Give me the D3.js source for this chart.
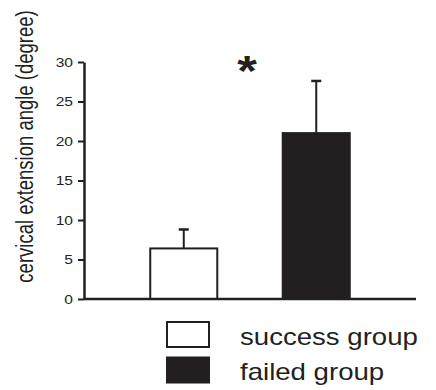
<!DOCTYPE html>
<html>
<head>
<meta charset="utf-8">
<script src="https://cdn.jsdelivr.net/npm/d3@7"></script>
<style>
  body { margin: 0; background: #fff; }
  svg { display: block; font-family: "Liberation Sans", Arial, sans-serif; }
</style>
</head>
<body>
<svg id="chart" width="436" height="390"></svg>
<script>
// data
var groups = ["success group", "failed group"];
var means = [6.4, 21.0];
var errors = [2.4, 6.6];
var fills = ["#ffffff", "#231f20"];
var yTicks = [0, 5, 10, 15, 20, 25, 30];
var yLabel = "cervical extension angle (degree)";

var ink = "#231f20";
var sx = 1.2; // the source figure is stretched sideways
var svg = d3.select("#chart");

// scales
var x = d3.scaleBand().domain(groups).range([84, 416]).paddingInner(0.494).paddingOuter(0.5);
var y = d3.scaleLinear().domain([0, 30]).range([299, 62]);

// y axis
var yAxis = svg.append("g")
  .attr("transform", "translate(84,0)")
  .call(d3.axisLeft(y).tickValues(yTicks).tickSize(6).tickPadding(5).tickSizeOuter(0));
yAxis.select(".domain").attr("stroke", ink).attr("stroke-width", 2.5);
yAxis.selectAll(".tick line").attr("stroke", ink).attr("stroke-width", 2);
yAxis.selectAll(".tick text")
  .attr("fill", ink)
  .attr("x", -11 / sx)
  .attr("transform", "scale(" + sx + ",1)")
  .style("font-size", "13px")
  .style("font-family", "Liberation Sans, Arial, sans-serif");

// y label
svg.append("text")
  .attr("transform", "translate(33,146.5) scale(1.3,1) rotate(-90)")
  .attr("text-anchor", "middle")
  .attr("fill", ink)
  .style("font-size", "18.5px")
  .text(yLabel);

// bars
svg.selectAll("rect.bar")
  .data(groups)
  .enter().append("rect")
  .attr("class", "bar")
  .attr("x", function(d) { return x(d); })
  .attr("y", function(d, i) { return y(means[i]); })
  .attr("width", x.bandwidth())
  .attr("height", function(d, i) { return y(0) - y(means[i]); })
  .attr("fill", function(d, i) { return fills[i]; })
  .attr("stroke", ink)
  .attr("stroke-width", 2);

// error bars (upper only)
var eb = svg.selectAll("g.err").data(groups).enter().append("g").attr("class", "err");
eb.append("line")
  .attr("x1", function(d) { return x(d) + x.bandwidth() / 2; })
  .attr("x2", function(d) { return x(d) + x.bandwidth() / 2; })
  .attr("y1", function(d, i) { return y(means[i]); })
  .attr("y2", function(d, i) { return y(means[i] + errors[i]); })
  .attr("stroke", ink).attr("stroke-width", 2);
eb.append("line")
  .attr("x1", function(d) { return x(d) + x.bandwidth() / 2 - 5; })
  .attr("x2", function(d) { return x(d) + x.bandwidth() / 2 + 5; })
  .attr("y1", function(d, i) { return y(means[i] + errors[i]); })
  .attr("y2", function(d, i) { return y(means[i] + errors[i]); })
  .attr("stroke", ink).attr("stroke-width", 2.5);

// x axis baseline
svg.append("line")
  .attr("x1", 84).attr("x2", 416)
  .attr("y1", y(0)).attr("y2", y(0))
  .attr("stroke", ink).attr("stroke-width", 2.5);

// significance mark
svg.append("text")
  .attr("transform", "translate(247,85) scale(" + sx + ",1)")
  .attr("text-anchor", "middle")
  .attr("fill", ink)
  .style("font-size", "42px")
  .style("font-weight", "bold")
  .text("*");

// legend
var legend = svg.selectAll("g.legend").data(groups).enter().append("g")
  .attr("class", "legend")
  .attr("transform", function(d, i) { return "translate(0," + (i * 35.5) + ")"; });
legend.append("rect")
  .attr("x", 167).attr("y", 322)
  .attr("width", 42).attr("height", 25)
  .attr("fill", function(d, i) { return fills[i]; })
  .attr("stroke", ink).attr("stroke-width", 2);
legend.append("text")
  .attr("transform", "translate(240,344.5) scale(" + sx + ",1)")
  .attr("fill", ink)
  .style("font-size", "23px")
  .text(function(d) { return d; });
</script>
</body>
</html>
